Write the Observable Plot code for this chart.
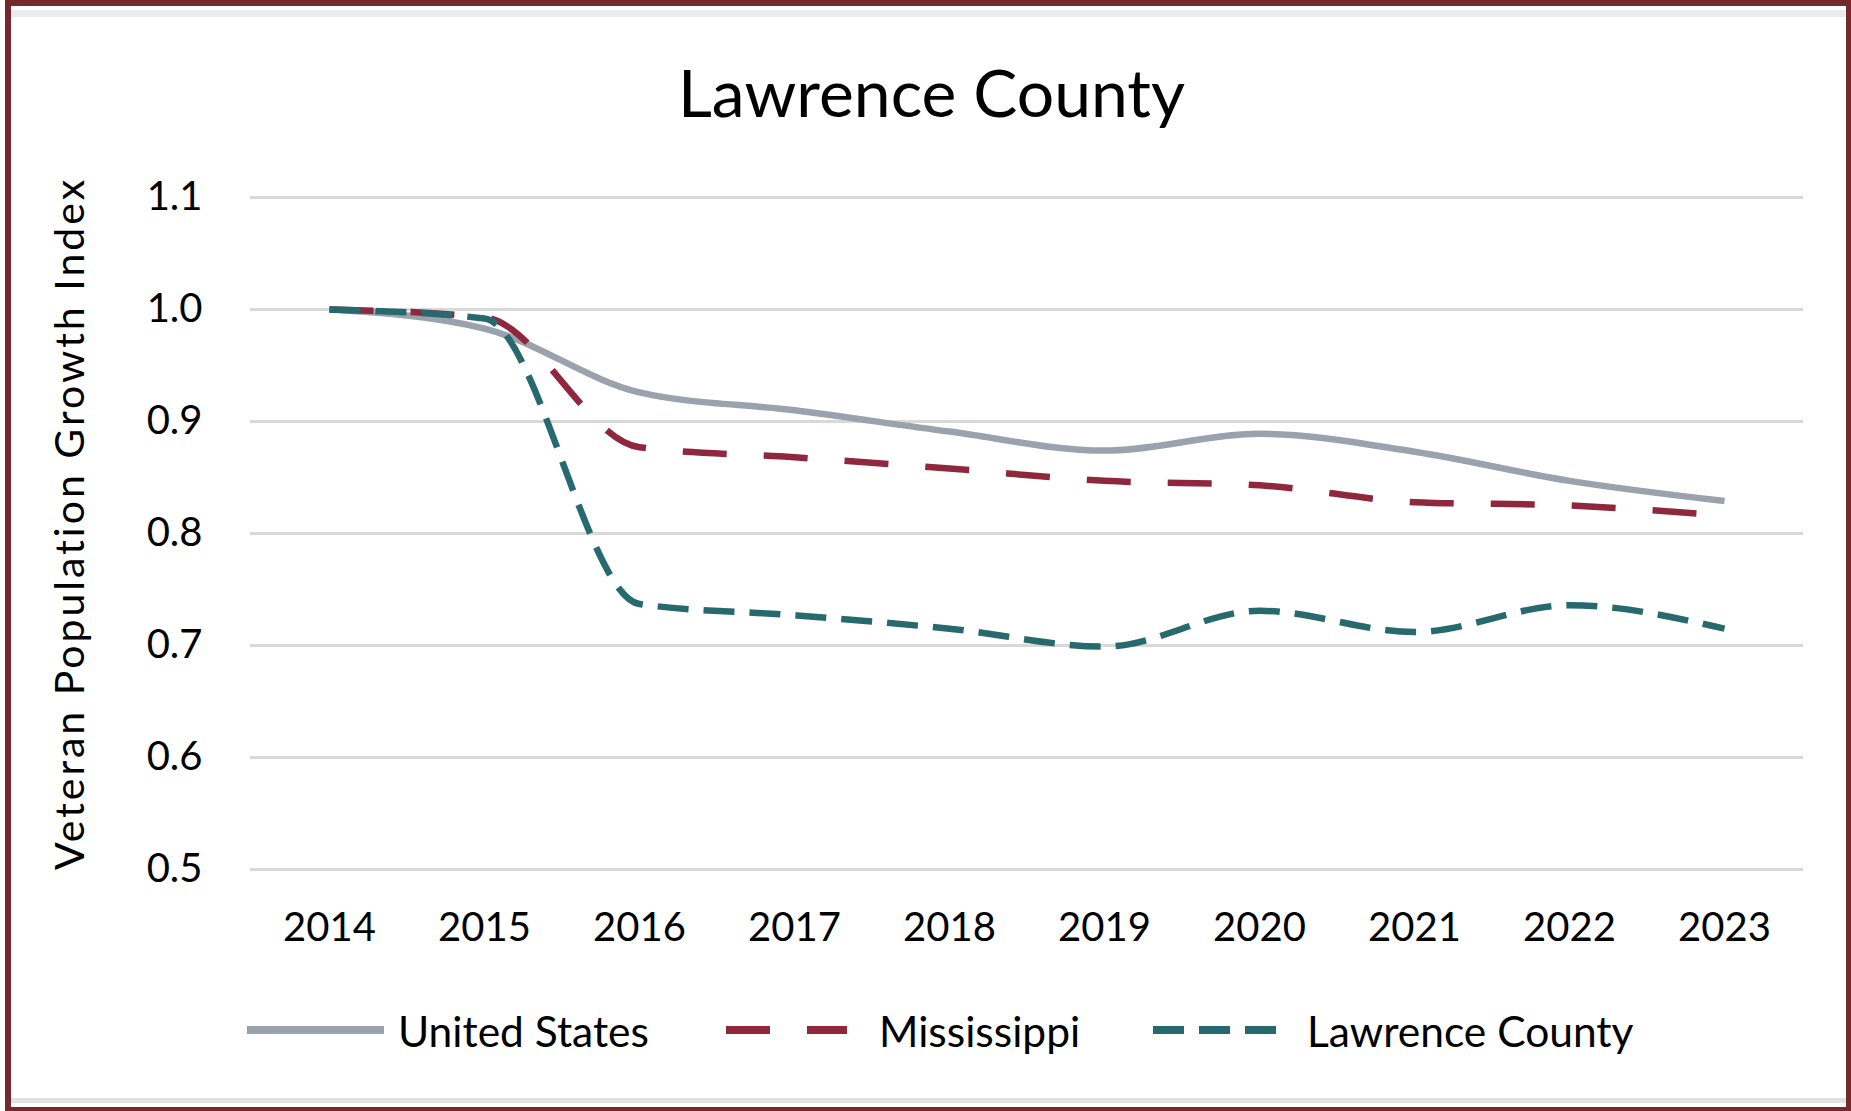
<!DOCTYPE html>
<html>
<head>
<meta charset="utf-8">
<script src="https://cdn.jsdelivr.net/npm/d3@7"></script>
<script src="https://cdn.jsdelivr.net/npm/@observablehq/plot@0.6"></script>
<style>
  html, body { margin: 0; padding: 0; background: #fff; }
  #wrap { position: relative; width: 1851px; height: 1111px; background: #fff; overflow: hidden; font-family: Lato, "Open Sans", sans-serif; }
  #frameL { position: absolute; left: 5px; top: 0; width: 6px; height: 1111px; background: #742a2b; }
  #frameR { position: absolute; right: 0; top: 0; width: 5px; height: 1111px; background: #742a2b; }
  #frameT { position: absolute; left: 5px; top: 0; width: 1846px; height: 6px; background: #742a2b; }
  #frameB { position: absolute; left: 5px; bottom: 0; width: 1846px; height: 4px; background: #742a2b; }
  #bandT { position: absolute; left: 11px; top: 10px; width: 1835px; height: 7px; background: #ececec; }
  #bandB { position: absolute; left: 11px; top: 1098px; width: 1835px; height: 5px; background: #e2e2e2; }
  #title { position: absolute; left: 6px; top: 59px; width: 1851px; text-align: center; font-size: 66px; line-height: 66px; color: #000; }
  #chart { position: absolute; left: 0; top: 150px; }
  #legend { position: absolute; left: 0; top: 1005px; height: 50px; width: 1851px; }
  .item { position: absolute; top: 0; height: 50px; display: flex; align-items: center; font-size: 42.5px; color: #000; }
</style>
</head>
<body>
<div id="wrap">
  <div id="frameL"></div><div id="frameR"></div><div id="frameT"></div><div id="frameB"></div>
  <div id="bandT"></div><div id="bandB"></div>
  <div id="title"></div>
  <div id="chart"></div>
  <div id="legend"></div>
</div>
<script>
const chartTitle = "Lawrence County";
const yLabel = "Veteran Population Growth Index";
const years = [2014, 2015, 2016, 2017, 2018, 2019, 2020, 2021, 2022, 2023];
const unitedStates   = [1.000, 0.983, 0.926, 0.910, 0.891, 0.874, 0.889, 0.873, 0.847, 0.829];
const mississippi    = [1.000, 0.993, 0.877, 0.868, 0.858, 0.847, 0.843, 0.828, 0.825, 0.816];
const lawrenceCounty = [1.000, 0.992, 0.737, 0.727, 0.715, 0.699, 0.731, 0.712, 0.736, 0.715];
const seriesNames = ["United States", "Mississippi", "Lawrence County"];
const seriesColors = ["#9aa3ad", "#8f283c", "#266a6f"];
const seriesDash = [null, "44,37", "31,15"];
const yTicks = [0.5, 0.6, 0.7, 0.8, 0.9, 1.0, 1.1];

const seriesValues = [unitedStates, mississippi, lawrenceCounty];
const rows = [];
seriesNames.forEach((name, s) => years.forEach((yr, i) => rows.push({series: name, year: String(yr), value: seriesValues[s][i]})));

document.getElementById("title").textContent = chartTitle;

const font = "Lato, 'Open Sans', sans-serif";
const marks = [
  Plot.ruleY(yTicks, {stroke: "#d9d9d9", strokeWidth: 3}),
  Plot.axisY({ticks: yTicks, tickFormat: d3.format(".1f"), tickSize: 0, tickPadding: 48, fontSize: 40, label: null}),
  Plot.axisX({tickSize: 0, tickPadding: 43, fontSize: 40, label: null}),
  Plot.text([yLabel], {frameAnchor: "left", textAnchor: "middle", rotate: -90, dx: -180, dy: -10, text: d => d, fontSize: 41, fill: "#000", lineAnchor: "middle", className: "ylabel"})
];
seriesNames.forEach((name, s) => {
  marks.push(Plot.line(rows.filter(r => r.series === name), {
    x: "year", y: "value", stroke: seriesColors[s], strokeWidth: 6.5,
    strokeDasharray: seriesDash[s] || undefined, strokeLinecap: "butt",
    curve: "monotone-x"
  }));
});

const chart = Plot.plot({
  width: 1851,
  height: 820,
  marginTop: 47,
  marginBottom: 101,
  marginLeft: 250,
  marginRight: 48,
  style: {fontFamily: font, color: "#000", background: "transparent", overflow: "visible"},
  x: {type: "point", domain: years.map(String), padding: 0.5},
  y: {domain: [0.5, 1.1]},
  marks
});
chart.querySelectorAll(".ylabel text").forEach(t => t.setAttribute("letter-spacing", "3"));
document.getElementById("chart").appendChild(chart);

// legend
const legendPos = [
  {sw: 247, swW: 137, tx: 398},
  {sw: 726, swW: 121, tx: 879},
  {sw: 1153, swW: 126, tx: 1307}
];
const legend = document.getElementById("legend");
seriesNames.forEach((name, s) => {
  const item = document.createElement("div");
  item.className = "item";
  item.style.left = legendPos[s].sw + "px";
  const w = legendPos[s].swW;
  const gap = legendPos[s].tx - legendPos[s].sw - w;
  const svg = d3.create("svg").attr("width", w).attr("height", 12).style("margin-right", gap + "px");
  svg.append("line").attr("x1", 0).attr("x2", w).attr("y1", 6).attr("y2", 6)
    .attr("stroke", seriesColors[s]).attr("stroke-width", 8)
    .attr("stroke-dasharray", seriesDash[s]);
  item.appendChild(svg.node());
  const t = document.createElement("span");
  t.textContent = name;
  item.appendChild(t);
  legend.appendChild(item);
});
</script>
</body>
</html>
